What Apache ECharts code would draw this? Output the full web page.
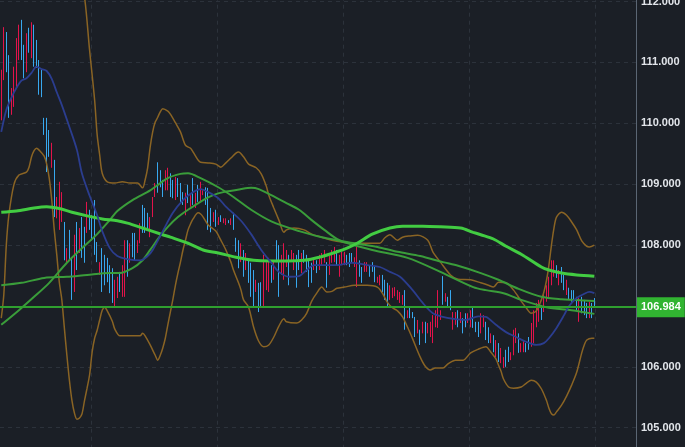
<!DOCTYPE html>
<html><head><meta charset="utf-8">
<script src="https://cdn.jsdelivr.net/npm/echarts/dist/echarts.min.js"></script>
<style>html,body{margin:0;padding:0;background:#1b1f26;}#c{width:685px;height:447px;}</style>
</head><body><div id="c"></div>
<script>
// ---- data ----
const slotCount = 252;           // category slots on the time axis (data + empty right margin)
const lastPrice = 106.984;
const yMin = 104, yMax = 113, yStep = 1;

const opens = [110.05,110.71,111.50,111.12,110.14,110.27,110.58,111.04,111.70,111.29,
110.84,111.57,111.07,111.62,111.37,111.04,110.88,110.09,110.09,109.89,
109.27,109.40,108.44,108.25,108.38,108.38,107.71,108.25,107.79,107.23,
108.38,107.87,108.46,108.30,108.20,108.58,108.49,108.74,108.05,107.51,
107.95,107.84,107.79,107.67,107.62,106.97,107.13,107.56,107.15,107.15,
108.08,107.71,108.20,108.20,107.87,108.03,108.66,108.61,108.53,108.13,
108.46,108.79,109.36,109.23,109.07,108.90,108.90,109.18,109.07,108.74,
109.10,109.02,108.87,108.49,108.99,108.63,109.10,108.61,108.99,108.71,
108.82,108.95,108.94,108.61,108.38,108.58,108.33,108.49,108.36,108.33,
108.41,108.33,108.53,108.12,108.08,107.72,107.92,107.59,107.75,107.71,
107.59,107.23,107.38,107.39,107.00,107.26,107.23,107.67,107.43,108.08,
108.00,107.51,107.43,107.64,107.84,107.75,107.59,107.84,107.92,107.54,
107.92,107.84,107.75,107.71,107.59,107.75,107.59,107.67,107.71,107.72,
107.51,107.71,107.72,107.92,107.48,107.67,107.67,107.84,107.87,107.87,
107.64,107.31,107.75,107.64,107.56,107.56,107.67,107.72,107.64,107.38,
107.34,107.51,107.43,107.38,107.10,107.13,107.16,107.10,107.05,107.02,
107.26,106.80,106.98,106.90,106.82,106.55,106.61,106.55,106.74,106.55,
106.49,106.39,106.65,106.64,106.77,107.49,107.07,107.15,107.26,106.61,
106.69,106.93,106.72,106.80,106.88,106.72,106.65,106.97,106.74,106.74,
106.55,106.65,106.74,106.65,106.39,106.52,106.16,106.39,106.06,105.98,
106.28,106.33,106.11,106.19,106.39,106.55,106.24,106.24,106.39,106.49,
106.33,106.39,106.65,106.74,106.98,106.90,107.07,107.15,107.34,107.48,
107.67,107.34,107.64,107.51,107.18,107.30,107.26,107.26,107.15,106.74,
107.15,107.10,107.05,106.80,107.05,107.13];

const closes = [110.88,111.58,110.84,110.09,110.58,110.93,111.40,111.62,111.04,110.74,
111.48,111.16,111.66,110.93,110.91,110.47,110.43,109.81,109.20,109.45,
109.68,108.46,108.79,109.04,108.87,107.75,107.95,107.75,107.10,108.17,
107.59,108.28,107.79,107.71,108.71,108.25,108.08,107.84,107.72,107.72,
107.23,107.34,107.39,107.21,107.05,107.43,107.48,107.23,107.67,108.08,
107.48,108.03,107.80,107.75,108.08,108.36,108.20,108.20,108.25,108.46,
108.79,109.02,108.86,108.95,108.79,109.23,109.27,108.79,108.77,109.12,
108.79,108.69,108.66,108.86,108.69,108.82,108.66,108.86,108.71,109.04,
108.90,108.66,108.25,108.21,108.54,108.30,108.46,108.38,108.44,108.44,
108.36,108.44,108.25,107.89,107.62,108.03,107.48,107.87,107.38,107.15,
106.97,107.43,106.90,106.98,107.84,107.72,107.79,107.38,107.75,107.72,
107.15,107.84,108.03,107.92,107.34,107.92,107.87,107.30,107.59,107.87,
107.71,107.56,107.31,107.38,107.80,107.54,107.84,107.87,107.92,107.30,
107.82,107.92,107.97,107.67,107.84,107.89,107.89,107.67,107.64,107.71,
107.80,107.97,107.48,107.38,107.72,107.72,107.48,107.56,107.39,107.48,
107.51,107.23,107.10,106.98,107.34,107.30,107.31,107.26,107.23,107.18,
106.61,106.93,106.80,106.80,106.49,106.77,106.36,106.74,106.39,106.72,
106.74,106.85,106.93,107.26,106.93,107.02,107.21,106.98,106.93,106.90,
106.90,106.65,106.90,106.55,106.65,106.88,106.93,106.64,106.57,106.49,
106.88,106.85,106.44,106.39,106.55,106.24,106.44,106.08,106.31,106.16,
106.00,106.08,106.24,106.61,106.64,106.23,106.39,106.44,106.24,106.28,
106.72,106.93,107.05,107.10,106.77,107.23,107.34,107.48,107.75,107.75,
107.46,107.59,107.38,107.26,107.43,107.10,107.07,107.07,106.93,107.13,
106.88,106.85,106.80,107.07,106.80,106.984];

// indicator lines: [candle index, value] read at sample points
const maMid = [[0,109.86],[2,110.22],[4,110.42],[6,110.58],[8,110.70],[10,110.74],[12,110.83],[14,110.93],[16,110.89],[18,110.86],[20,110.73],[22,110.51],[24,110.30],[27,109.94],[30,109.56],[32,109.17],[35,108.81],[38,108.49],[40,108.23],[43,107.95],[46,107.82],[50,107.77],[55,107.75],[58,107.82],[60,107.92],[64,108.23],[68,108.53],[72,108.74],[76,108.87],[79,108.92],[82,108.87],[86,108.77],[89,108.63],[95,108.40],[99,108.18],[103,107.92],[107,107.71],[110,107.56],[114,107.48],[118,107.49],[121,107.59],[124,107.67],[128,107.67],[133,107.67],[139,107.71],[145,107.67],[150,107.64],[154,107.56],[158,107.48],[163,107.26],[167,107.05],[171,106.88],[175,106.82],[179,106.79],[184,106.77],[189,106.83],[192,106.82],[196,106.69],[200,106.57],[204,106.49],[208,106.41],[212,106.36],[215,106.39],[217,106.47],[220,106.64],[223,106.85],[225,107.00],[228,107.13],[231,107.20],[233,107.23],[235,107.21]];

const bandUpper = [[27,112.90],[31,112.40],[33,112.07],[35,111.20],[37,110.38],[38,109.81],[39,109.48],[40,109.18],[42,109.04],[45,109.02],[48,109.04],[51,109.02],[54,109.02],[56,108.94],[57,109.07],[58,109.27],[59,109.61],[60,109.86],[61,110.02],[62,110.10],[63,110.19],[64,110.24],[66,110.20],[67,110.15],[69,110.01],[71,109.86],[73,109.64],[75,109.59],[76,109.53],[79,109.36],[82,109.35],[85,109.33],[87,109.28],[89,109.35],[91,109.43],[93,109.51],[94,109.53],[96,109.45],[98,109.33],[101,109.27],[103,109.17],[105,108.97],[106,108.82],[108,108.61],[110,108.41],[112,108.21],[113,108.25],[116,108.28],[120,108.25],[123,108.18],[127,108.13],[131,108.08],[135,108.05],[140,108.03],[145,108.03],[150,108.03],[152,108.12],[154,108.17],[157,108.08],[159,108.13],[162,108.15],[165,108.16],[169,108.08],[171,107.89],[174,107.72],[178,107.51],[181,107.44],[186,107.43],[190,107.38],[193,107.34],[195,107.31],[197,107.39],[200,107.38],[203,107.26],[206,107.08],[208,106.97],[210,106.88],[212,106.92],[214,107.10],[215,107.23],[216,107.41],[217,107.67],[218,108.00],[219,108.28],[220,108.46],[222,108.54],[224,108.49],[226,108.38],[228,108.25],[230,108.07],[232,107.98],[233,107.97],[235,108.00]];

const bandLower = [[0,106.80],[1,107.18],[2,108.00],[3,108.49],[5,108.99],[7,109.15],[10,109.20],[11,109.28],[12,109.45],[13,109.55],[14,109.59],[15,109.56],[17,109.46],[18,109.33],[19,109.10],[20,108.74],[21,108.25],[22,107.84],[23,107.39],[24,107.10],[25,106.64],[26,106.19],[27,105.78],[28,105.45],[29,105.24],[30,105.14],[31,105.16],[32,105.23],[33,105.45],[34,105.65],[35,105.87],[36,106.24],[37,106.47],[38,106.60],[39,106.77],[40,106.93],[41,106.98],[42,106.92],[44,106.75],[45,106.62],[47,106.51],[50,106.51],[55,106.51],[56,106.55],[57,106.51],[59,106.36],[61,106.19],[62,106.11],[63,106.19],[64,106.31],[65,106.47],[66,106.69],[67,106.90],[68,107.11],[69,107.34],[70,107.54],[71,107.72],[72,107.92],[73,108.08],[74,108.25],[75,108.35],[76,108.43],[78,108.53],[79,108.51],[80,108.46],[82,108.33],[85,108.23],[87,108.08],[89,107.92],[91,107.72],[92,107.59],[94,107.38],[95,107.26],[96,107.10],[98,106.98],[100,106.65],[102,106.42],[104,106.33],[106,106.36],[108,106.49],[110,106.67],[112,106.79],[113,106.74],[117,106.72],[119,106.77],[121,106.88],[123,107.08],[125,107.21],[127,107.31],[129,107.23],[131,107.24],[133,107.29],[136,107.31],[140,107.34],[145,107.34],[149,107.31],[151,107.21],[153,107.06],[155,106.97],[157,106.92],[159,106.82],[161,106.65],[163,106.46],[166,106.16],[168,106.01],[170,105.95],[172,105.98],[175,105.98],[177,106.05],[180,106.11],[183,106.11],[186,106.23],[189,106.29],[192,106.33],[194,106.24],[196,106.13],[197,106.03],[198,105.93],[199,105.80],[201,105.67],[203,105.65],[206,105.67],[208,105.73],[210,105.78],[212,105.75],[214,105.64],[216,105.45],[217,105.32],[218,105.23],[219,105.21],[220,105.26],[222,105.37],[224,105.52],[226,105.70],[228,105.91],[230,106.23],[231,106.36],[232,106.44],[234,106.47],[235,106.47]];

const maLong = [[0,108.54],[6,108.56],[13,108.61],[18,108.63],[23,108.60],[28,108.54],[34,108.48],[40,108.43],[46,108.40],[50,108.36],[56,108.28],[64,108.17],[67,108.13],[74,108.03],[80,107.92],[86,107.87],[93,107.80],[100,107.75],[107,107.74],[113,107.74],[120,107.75],[126,107.80],[133,107.89],[137,107.95],[141,108.03],[147,108.18],[154,108.28],[159,108.31],[167,108.31],[174,108.30],[182,108.28],[187,108.21],[190,108.17],[195,108.10],[200,107.98],[206,107.85],[214,107.64],[217,107.59],[222,107.54],[228,107.51],[235,107.49]];

const maSlow = [[0,107.34],[8,107.38],[17,107.46],[26,107.48],[34,107.51],[43,107.54],[47,107.54],[52,107.62],[56,107.75],[59,107.92],[63,108.15],[66,108.30],[70,108.46],[74,108.58],[80,108.74],[84,108.82],[88,108.87],[95,108.92],[99,108.94],[102,108.92],[107,108.82],[113,108.69],[118,108.58],[123,108.41],[128,108.25],[134,108.08],[140,108.03],[149,107.97],[157,107.89],[166,107.82],[175,107.72],[181,107.66],[190,107.54],[197,107.43],[205,107.28],[214,107.15],[222,107.11],[228,107.10],[235,107.08]];

const maFast = [[0,106.69],[7,106.93],[13,107.15],[19,107.38],[26,107.71],[32,107.95],[38,108.18],[43,108.41],[46,108.56],[52,108.74],[59,108.90],[66,109.10],[71,109.17],[74,109.18],[79,109.10],[86,108.95],[92,108.79],[99,108.58],[107,108.39],[118,108.23],[127,108.13],[134,108.07],[138,108.02],[147,107.92],[161,107.79],[174,107.56],[187,107.31],[192,107.26],[199,107.21],[206,107.10],[216,106.98],[226,106.93],[235,106.87]];

// ---- build chart ----
const categories = Array.from({length: slotCount}, (_, i) => String(i));
const candles = opens.map((o, i) => {
  const c = closes[i];
  return [o, c, Math.min(o, c), Math.max(o, c)];
});

const gridCol = '#2c323b';
function line(data, color, width, smooth) {
  return { type: 'line', data, symbol: 'none', smooth: smooth, z: 3, silent: true,
    lineStyle: { color, width }, emphasis: { disabled: true } };
}

const chart = echarts.init(document.getElementById('c'), null, { renderer: 'canvas' });
chart.setOption({
  animation: false,
  backgroundColor: '#1b1f26',
  grid: { left: 0, right: 49, top: -59.3, bottom: -41.6, containLabel: false, outerBoundsMode: 'none' },
  xAxis: {
    type: 'category', data: categories, boundaryGap: true,
    axisLine: { show: false }, axisTick: { show: false }, axisLabel: { show: false },
    splitLine: { show: true, interval: (i) => i % 50 === 36,
      lineStyle: { color: gridCol, type: [4, 4], width: 1 } }
  },
  yAxis: {
    type: 'value', position: 'right', min: yMin, max: yMax, interval: yStep, scale: false,
    axisLine: { show: true, lineStyle: { color: '#5b6674', width: 1 } },
    axisTick: { show: false },
    axisLabel: { color: '#e2e5ea', fontSize: 11, fontWeight: 'bold', fontFamily: 'Arial',
      margin: 5, formatter: v => v.toFixed(3) },
    splitLine: { show: true, lineStyle: { color: gridCol, type: [4, 4], width: 1 } }
  },
  series: [
    line(bandUpper, '#8a6424', 1.5, 0.3),
    line(bandLower, '#8a6424', 1.5, 0.3),
    line(maSlow, '#3a9d3a', 2, 0.3),
    line(maFast, '#3a9d3a', 2, 0.3),
    line(maLong, '#42cc42', 3, 0.3),
    line(maMid, '#2b3d8f', 1.8, 0.3),
    {
      type: 'candlestick', data: candles, barWidth: 1, z: 2, silent: true,
      emphasis: { disabled: true },
      itemStyle: { color: '#e3134b', color0: '#38a8ef', borderColor: '#e3134b', borderColor0: '#38a8ef', borderWidth: 1 },
      markLine: {
        silent: true, symbol: ['none', 'none'], z: 5,
        data: [{ yAxis: lastPrice }],
        lineStyle: { color: '#2f9f2f', width: 2, type: 'solid' },
        label: { show: true, position: 'end', formatter: lastPrice.toFixed(3),
          backgroundColor: '#31b431', color: '#ffffff', fontWeight: 'bold', fontSize: 11,
          fontFamily: 'Arial', padding: [5, 4, 4, 4], distance: 1 }
      }
    }
  ]
});
</script>
</body></html>
